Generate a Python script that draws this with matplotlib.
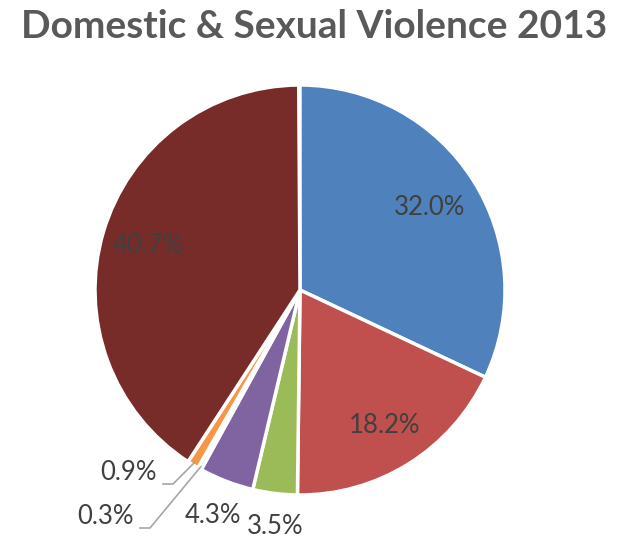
import numpy as np
import matplotlib.pyplot as plt

labels = ["32.0%", "18.2%", "3.5%", "4.3%", "0.3%", "0.9%", "40.7%"]
values = [32.0, 18.2, 3.5, 4.3, 0.3, 0.9, 40.7]
colors = ["#4F81BD", "#C0504D", "#9BBB59", "#8064A2", "#4BACC6", "#F79646", "#772C2A"]

plt.rcParams["font.family"] = ["Lato", "DejaVu Sans"]

W, H = 629, 538
fig = plt.figure(figsize=(W / 100, H / 100), dpi=100)
ax = fig.add_axes([0, 0, 1, 1])
ax.set_xlim(0, W); ax.set_ylim(0, H); ax.set_aspect("equal"); ax.axis("off")

cx, cy, R = 300, 248, 205
wedges, _ = ax.pie(np.array(values) / 100, colors=colors, startangle=90, counterclock=False,
                   center=(cx, cy), radius=R, normalize=False,
                   wedgeprops=dict(edgecolor="white", linewidth=2.5))
ax.set_xlim(0, W); ax.set_ylim(0, H)

txt = "#404040"
fs = 18.5
# label distance (fraction of radius) for the slices labelled in place
dist = {0: 0.75, 1: 0.78, 2: 1.16, 3: 1.18, 6: 0.77}
for i, w in enumerate(wedges):
    mid = np.deg2rad((w.theta1 + w.theta2) / 2)
    dx, dy = np.cos(mid), np.sin(mid)
    if i in dist:
        ax.text(cx + dx * R * dist[i] + (4 if i == 2 else 0), cy + dy * R * dist[i],
                labels[i], ha="center", va="center", fontsize=fs, color=txt)
    else:
        x0, y0 = cx + dx * (R - 2), cy + dy * (R - 2)
        if i == 5:
            ex, ey = 173, H - 484
        else:
            ex, ey = 150, H - 528
        ax.plot([x0, ex, ex - 10], [y0, ey, ey], color="#A6A6A6", lw=1.2)
        ax.text(ex - 16, ey + 11, labels[i], ha="right", va="center",
                fontsize=fs, color=txt)

fig.text(0.5, 1 - 27 / H, "Domestic & Sexual Violence 2013", ha="center", va="center",
         fontsize=28, fontweight="bold", color="#595959")

fig.savefig("out.png", dpi=100)
